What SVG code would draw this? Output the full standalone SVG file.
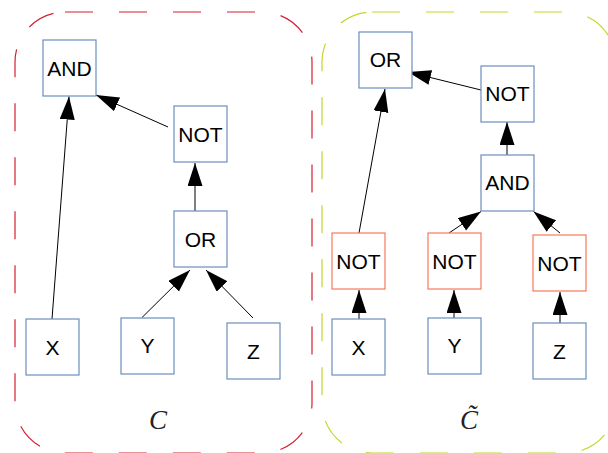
<svg xmlns="http://www.w3.org/2000/svg" width="608" height="453" viewBox="0 0 608 453">
<style>
.b{fill:#fff;stroke:#6c8ebf;stroke-width:1.2}
.r{fill:#fff;stroke:#f7795a;stroke-width:1.2}
.t{font-family:"Liberation Sans",Arial,sans-serif;font-size:21px;fill:#000;text-anchor:middle}
.e{stroke:#000;stroke-width:1;fill:none;marker-end:url(#ah)}
.lab{font-family:"Liberation Serif","Times New Roman",serif;font-style:italic;font-size:27px;fill:#222;text-anchor:middle}
</style>
<defs>
<marker id="ah" markerUnits="userSpaceOnUse" markerWidth="24" markerHeight="16" refX="23" refY="7.5" orient="auto">
<path d="M0,0 L23,7.5 L0,15 z" fill="#000"/>
</marker>
</defs>
<rect width="608" height="453" fill="#fff"/>
<g id="frame-c">
<rect x="15" y="12" width="297" height="441" rx="50" ry="50" fill="none" stroke="#d42030" stroke-width="1.2" stroke-dasharray="28 26"/>
<text class="lab" x="158" y="429">C</text>
</g>
<g id="frame-ctilde">
<rect x="322" y="12" width="294" height="441" rx="50" ry="50" fill="none" stroke="#c5d52a" stroke-width="1.2" stroke-dasharray="28 26"/>
<text class="lab" x="469" y="429">C̃</text>
</g>
<g id="connectors">
<line class="e" x1="52" y1="319" x2="69" y2="96.5"/>
<line class="e" x1="168" y1="127" x2="96" y2="95"/>
<line class="e" x1="195" y1="211" x2="195" y2="163"/>
<line class="e" x1="142" y1="317.5" x2="190" y2="270"/>
<line class="e" x1="253" y1="318" x2="206" y2="270"/>
<line class="e" x1="359" y1="319" x2="359" y2="290"/>
<line class="e" x1="359" y1="233" x2="385" y2="89"/>
<line class="e" x1="481" y1="90" x2="408" y2="72"/>
<line class="e" x1="507" y1="155" x2="507" y2="122"/>
<line class="e" x1="449" y1="233" x2="481" y2="211.5"/>
<line class="e" x1="560" y1="233" x2="533.5" y2="211.5"/>
<line class="e" x1="454" y1="318" x2="454" y2="290"/>
<line class="e" x1="560" y1="323" x2="560" y2="292"/>
</g>
<g id="c-and"><rect class="b" x="43" y="40" width="53" height="56"/><text class="t" x="69.5" y="76">AND</text></g>
<g id="c-not"><rect class="b" x="174" y="106" width="53" height="56"/><text class="t" x="200.5" y="142">NOT</text></g>
<g id="c-or"><rect class="b" x="174" y="211" width="53" height="56"/><text class="t" x="200.5" y="247">OR</text></g>
<g id="c-x"><rect class="b" x="26" y="319" width="53" height="56"/><text class="t" x="52.5" y="354.5">X</text></g>
<g id="c-y"><rect class="b" x="121" y="318" width="53" height="56"/><text class="t" x="147.5" y="353">Y</text></g>
<g id="c-z"><rect class="b" x="227" y="323" width="53" height="56"/><text class="t" x="253.5" y="358.5">Z</text></g>
<g id="ct-or"><rect class="b" x="359" y="32" width="53" height="56"/><text class="t" x="385.5" y="67">OR</text></g>
<g id="ct-not"><rect class="b" x="481" y="66" width="53" height="56"/><text class="t" x="507.5" y="101">NOT</text></g>
<g id="ct-and"><rect class="b" x="481" y="155" width="53" height="56"/><text class="t" x="507.5" y="190">AND</text></g>
<g id="ct-notx"><rect class="r" x="332" y="233" width="53" height="56"/><text class="t" x="358.5" y="268.5">NOT</text></g>
<g id="ct-noty"><rect class="r" x="428" y="233" width="53" height="56"/><text class="t" x="454.5" y="268.5">NOT</text></g>
<g id="ct-notz"><rect class="r" x="533" y="235" width="53" height="56"/><text class="t" x="559.5" y="271">NOT</text></g>
<g id="ct-x"><rect class="b" x="332" y="319" width="53" height="56"/><text class="t" x="358.5" y="354.5">X</text></g>
<g id="ct-y"><rect class="b" x="428" y="318" width="53" height="56"/><text class="t" x="454.5" y="353">Y</text></g>
<g id="ct-z"><rect class="b" x="533" y="323" width="53" height="56"/><text class="t" x="559.5" y="358.5">Z</text></g>
</svg>
